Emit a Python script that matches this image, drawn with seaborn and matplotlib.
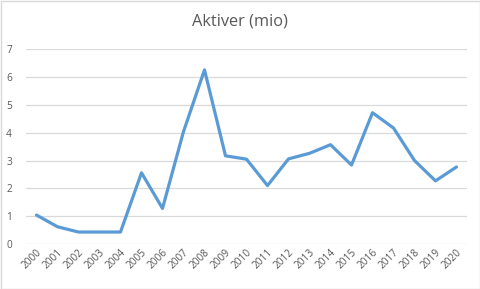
import matplotlib
matplotlib.use("Agg")
import matplotlib.pyplot as plt
import seaborn as sns
import pandas as pd
from matplotlib.patches import Rectangle

years = [str(y) for y in range(2000, 2021)]
values = [1.04, 0.62, 0.43, 0.43, 0.43, 2.56, 1.28, 4.04, 6.26, 3.17, 3.05,
          2.10, 3.06, 3.26, 3.57, 2.84, 4.72, 4.17, 3.00, 2.27, 2.77]
yticks = [0, 1, 2, 3, 4, 5, 6, 7]
title = "Aktiver (mio)"

df = pd.DataFrame({"year": years, "value": values})

sns.set_theme(style="white")
plt.rcParams['font.family'] = ['Open Sans', 'DejaVu Sans']

fig = plt.figure(figsize=(4.81, 2.89), dpi=100)
ax = fig.add_axes([26/481, 1-244/289, (467-26)/481, (244-49.3)/289])

sns.lineplot(data=df, x="year", y="value", ax=ax, color="#5B9BD5",
             linewidth=2.3, sort=False)

ax.set_xlim(-0.5, 20.5)
ax.set_ylim(0, 7)
ax.set_yticks(yticks)
ax.set_yticklabels([str(t) for t in yticks])
ax.grid(axis="y", color="#D9D9D9", linewidth=0.9)
ax.set_axisbelow(True)
for s in ax.spines.values():
    s.set_visible(False)
ax.set_xlabel("")
ax.set_ylabel("")
ax.tick_params(axis="both", length=0, colors="#595959", labelsize=7.3)
ax.tick_params(axis="y", pad=10)
ax.tick_params(axis="x", pad=2)
for lbl in ax.get_xticklabels():
    lbl.set_rotation(45)
    lbl.set_ha("right")
    lbl.set_rotation_mode("anchor")

fig.text(240/481, 1-22/289, title, ha="center", va="center",
         fontsize=11.8, color="#595959")

fig.patches.append(Rectangle((0.5/481, 0.5/289), 479.5/481, 287.5/289,
                             transform=fig.transFigure, fill=False,
                             edgecolor="#D9D9D9", linewidth=1))

fig.savefig("out.png", dpi=100)
